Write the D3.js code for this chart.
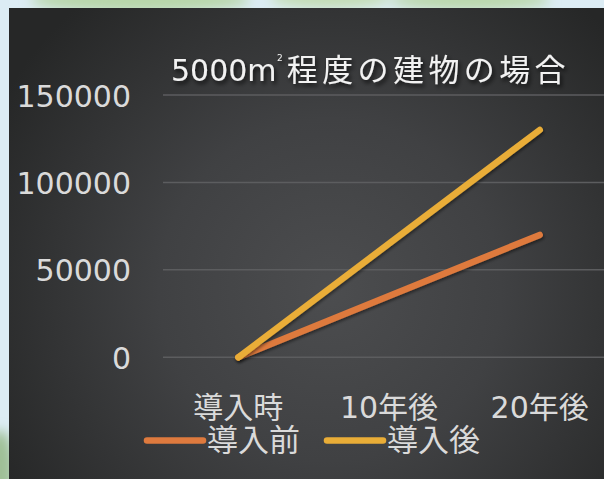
<!DOCTYPE html>
<html><head><meta charset="utf-8">
<script src="https://cdn.jsdelivr.net/npm/d3@7/dist/d3.min.js"></script>
<style>html,body{margin:0;padding:0;background:#dcecf4;overflow:hidden}</style>
</head><body>
<script>
const categories = ["導入時", "10年後", "20年後"];
const seriesNames = ["導入前", "導入後"];
const beforeValues = [0, 35000, 70000];
const afterValues = [0, 65000, 130000];
const yTicks = [0, 50000, 100000, 150000];
const titleText = "5000㎡程度の建物の場合";
const colors = ["#de7a3e", "#e9ad37"];

const W = 604, H = 479;
const svg = d3.select("body").append("svg").attr("width", W).attr("height", H);
const defs = svg.append("defs");

const blur = defs.append("filter").attr("id", "blur").attr("x", "-50%").attr("y", "-50%").attr("width", "200%").attr("height", "200%");
blur.append("feGaussianBlur").attr("stdDeviation", 6);
svg.append("rect").attr("width", W).attr("height", H).attr("fill", "#dcecf4");
const leaves = svg.append("g").attr("filter", "url(#blur)");
leaves.append("ellipse").attr("cx", 140).attr("cy", 0).attr("rx", 110).attr("ry", 12).attr("fill", "#b7d6a9");
leaves.append("ellipse").attr("cx", 330).attr("cy", -2).attr("rx", 60).attr("ry", 10).attr("fill", "#c2dcb4");
leaves.append("ellipse").attr("cx", 470).attr("cy", 0).attr("rx", 80).attr("ry", 10).attr("fill", "#b9d7aa");
leaves.append("ellipse").attr("cx", 0).attr("cy", 470).attr("rx", 14).attr("ry", 40).attr("fill", "#9fbf96");

const rg = defs.append("radialGradient").attr("id", "panel")
  .attr("cx", 330).attr("cy", 290).attr("r", 380).attr("gradientUnits", "userSpaceOnUse");
rg.append("stop").attr("offset", "0%").attr("stop-color", "#4c4d4f");
rg.append("stop").attr("offset", "45%").attr("stop-color", "#404143");
rg.append("stop").attr("offset", "100%").attr("stop-color", "#262727");
svg.append("rect").attr("x", 9).attr("y", 8).attr("width", W).attr("height", H).attr("fill", "url(#panel)");

const sh = defs.append("filter").attr("id", "tshadow").attr("x", "-10%").attr("y", "-30%").attr("width", "130%").attr("height", "180%");
sh.append("feDropShadow").attr("dx", 2).attr("dy", 3).attr("stdDeviation", 2).attr("flood-color", "#000").attr("flood-opacity", 0.7);
const lsh = defs.append("filter").attr("id", "lshadow").attr("x", "-10%").attr("y", "-10%").attr("width", "130%").attr("height", "130%");
lsh.append("feDropShadow").attr("dx", 1).attr("dy", 2).attr("stdDeviation", 1.5).attr("flood-color", "#000").attr("flood-opacity", 0.45);

const plotL = 163, plotR = 615, plotT = 95, plotB = 357.3;
const x = d3.scaleBand().domain(categories).range([plotL, plotR]).padding(0);
const y = d3.scaleLinear().domain([0, 150000]).range([plotB, plotT]);
const FONT = "'DejaVu Sans','Noto Sans CJK JP',sans-serif";

svg.append("g").selectAll("line").data(yTicks).join("line")
  .attr("x1", plotL).attr("x2", W).attr("y1", d => y(d)).attr("y2", d => y(d))
  .attr("stroke", "#5c5d5f").attr("stroke-width", 1.5);

const yAxis = svg.append("g").attr("transform", `translate(${plotL},0)`)
  .call(d3.axisLeft(y).tickValues(yTicks).tickSize(0).tickPadding(32).tickFormat(d3.format("d")));
yAxis.select(".domain").remove();
yAxis.selectAll("text").attr("font-family", FONT).attr("font-size", 30).attr("fill", "#dadada").attr("dy", "0.37em");

const xAxis = svg.append("g").attr("transform", `translate(0,${plotB})`)
  .call(d3.axisBottom(x).tickSize(0).tickPadding(0));
xAxis.select(".domain").remove();
xAxis.selectAll("text").attr("font-family", FONT).attr("font-size", 30).attr("fill", "#dadada").attr("dy", 0).attr("y", 61);

const line = d3.line().x((d, i) => x(categories[i]) + x.bandwidth() / 2).y(d => y(d));
[beforeValues, afterValues].forEach((vals, i) => {
  svg.append("path").datum(vals).attr("d", line).attr("fill", "none")
    .attr("stroke", colors[i]).attr("stroke-width", 6.5).attr("stroke-linecap", "round").attr("stroke-linejoin", "round")
    .attr("filter", "url(#lshadow)");
});

const t = svg.append("text").attr("x", 171).attr("y", 81).attr("font-family", FONT).attr("font-size", 30)
  .attr("fill", "#f2f2f2").attr("filter", "url(#tshadow)");
const m = titleText.match(/^(\d+)㎡(.*)$/);
t.append("tspan").text(m[1] + "m");
t.append("tspan").text("2").attr("font-size", 9).attr("dy", -20).attr("dx", 0.5);
t.append("tspan").text(m[2]).attr("font-size", 31).attr("dy", 20).attr("dx", 4).attr("letter-spacing", 4.4)
  .attr("font-family", "'Noto Sans CJK JP',sans-serif");

const legX = [147, 327];
const lg = svg.append("g");
seriesNames.forEach((name, i) => {
  lg.append("line").attr("x1", legX[i]).attr("x2", legX[i] + 56).attr("y1", 440.5).attr("y2", 440.5)
    .attr("stroke", colors[i]).attr("stroke-width", 6.5).attr("stroke-linecap", "round");
  lg.append("text").attr("x", legX[i] + 60).attr("y", 451).attr("font-family", FONT).attr("font-size", 31)
    .attr("fill", "#dadada").text(name);
});
</script>
</body></html>
